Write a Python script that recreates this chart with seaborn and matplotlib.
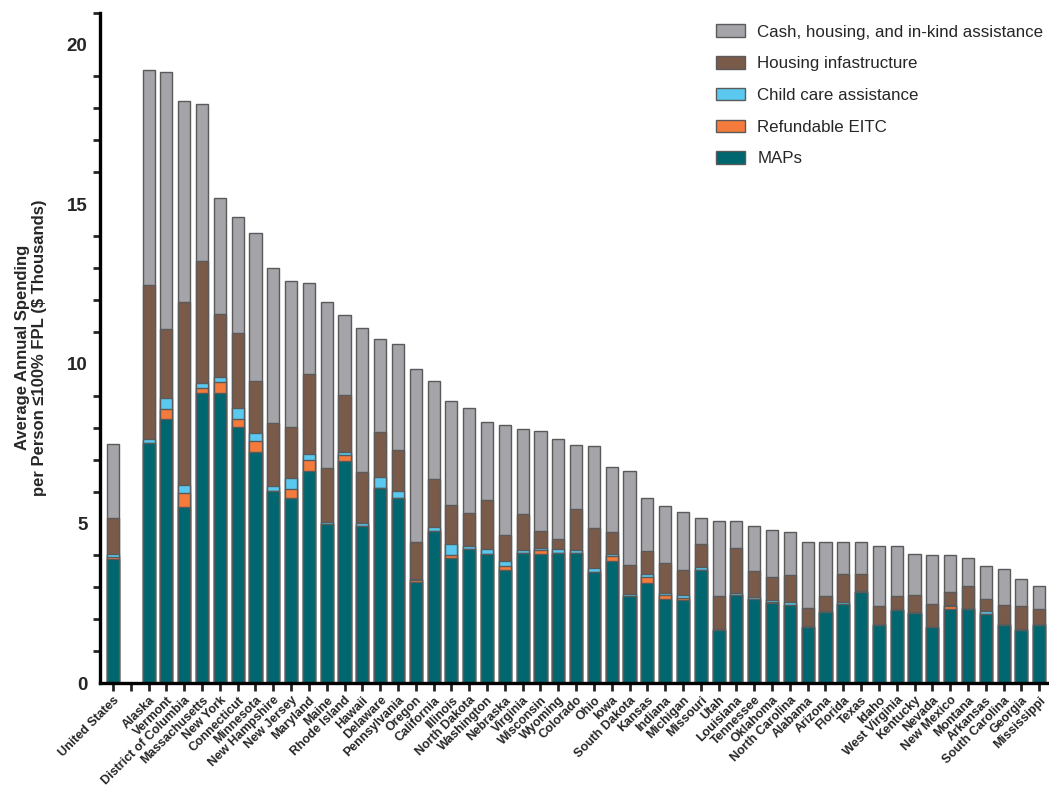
import matplotlib
matplotlib.use("Agg")
import matplotlib.pyplot as plt
import seaborn as sns
import numpy as np
import pandas as pd
from matplotlib.ticker import MultipleLocator
from matplotlib.patches import Patch

states = ["United States", "", "Alaska", "Vermont", "District of Columbia", "Massachusetts",
          "New York", "Connecticut", "Minnesota", "New Hampshire", "New Jersey", "Maryland",
          "Maine", "Rhode Island", "Hawaii", "Delaware", "Pennsylvania", "Oregon", "California",
          "Illinois", "North Dakota", "Washington", "Nebraska", "Virginia", "Wisconsin",
          "Wyoming", "Colorado", "Ohio", "Iowa", "South Dakota", "Kansas", "Indiana", "Michigan",
          "Missouri", "Utah", "Louisiana", "Tennessee", "Oklahoma", "North Carolina", "Alabama",
          "Arizona", "Florida", "Texas", "Idaho", "West Virginia", "Kentucky", "Nevada",
          "New Mexico", "Montana", "Arkansas", "South Carolina", "Georgia", "Mississippi"]

maps = [3.88, np.nan, 7.53, 8.27, 5.51, 9.10, 9.10, 8.03, 7.23, 6.03, 5.81, 6.65, 4.99, 6.97,
        4.91, 6.12, 5.81, 3.16, 4.75, 3.91, 4.21, 4.03, 3.54, 4.08, 4.03, 4.06, 4.06, 3.47,
        3.82, 2.72, 3.12, 2.65, 2.60, 3.55, 1.67, 2.77, 2.62, 2.52, 2.46, 1.75, 2.24, 2.49,
        2.84, 1.83, 2.29, 2.19, 1.75, 2.31, 2.32, 2.18, 1.82, 1.66, 1.82]
eitc = [0.07, np.nan, 0.00, 0.32, 0.43, 0.14, 0.34, 0.24, 0.36, 0.00, 0.28, 0.33, 0.00, 0.17,
        0.00, 0.00, 0.00, 0.06, 0.00, 0.09, 0.00, 0.00, 0.13, 0.00, 0.14, 0.00, 0.00, 0.00,
        0.15, 0.00, 0.21, 0.10, 0.07, 0.00, 0.00, 0.00, 0.00, 0.03, 0.00, 0.00, 0.00, 0.00,
        0.00, 0.00, 0.00, 0.00, 0.00, 0.10, 0.00, 0.00, 0.00, 0.00, 0.00]
childcare = [0.10, np.nan, 0.13, 0.34, 0.28, 0.17, 0.14, 0.34, 0.24, 0.15, 0.33, 0.19, 0.05, 0.09,
             0.12, 0.33, 0.22, 0.05, 0.13, 0.35, 0.07, 0.16, 0.14, 0.09, 0.07, 0.13, 0.11, 0.13,
             0.07, 0.07, 0.08, 0.06, 0.09, 0.08, 0.03, 0.04, 0.07, 0.05, 0.07, 0.03, 0.03, 0.06,
             0.04, 0.02, 0.03, 0.04, 0.02, 0.05, 0.02, 0.07, 0.02, 0.02, 0.02]
housing_infra = [1.13, np.nan, 4.80, 2.15, 5.71, 3.81, 1.98, 2.37, 1.64, 1.96, 1.60, 2.50, 1.70, 1.78,
                 1.57, 1.42, 1.26, 1.14, 1.52, 1.22, 1.04, 1.56, 0.84, 1.12, 0.51, 0.32, 1.29, 1.25,
                 0.70, 0.91, 0.73, 0.95, 0.78, 0.73, 1.04, 1.41, 0.83, 0.73, 0.86, 0.56, 0.47, 0.86,
                 0.53, 0.57, 0.42, 0.54, 0.70, 0.40, 0.70, 0.37, 0.62, 0.74, 0.47]
cash = [2.30, np.nan, 6.74, 8.06, 6.30, 4.91, 3.62, 3.63, 4.62, 4.86, 4.56, 2.86, 5.19, 2.53,
        4.52, 2.92, 3.33, 5.42, 3.06, 3.26, 3.30, 2.44, 3.42, 2.66, 3.14, 3.14, 2.00, 2.58,
        2.02, 2.95, 1.66, 1.80, 1.83, 0.80, 2.34, 0.85, 1.41, 1.45, 1.33, 2.09, 1.67, 1.00,
        1.00, 1.86, 1.54, 1.27, 1.55, 1.15, 0.88, 1.04, 1.11, 0.84, 0.72]

series_names = ["MAPs", "Refundable EITC", "Child care assistance",
                "Housing infastructure", "Cash, housing, and in-kind assistance"]
colors = ["#00666F", "#F47B3B", "#5BC8EF", "#7A5A49", "#A4A4A9"]

df = pd.DataFrame({"state": states, "MAPs": maps, "Refundable EITC": eitc,
                   "Child care assistance": childcare, "Housing infastructure": housing_infra,
                   "Cash, housing, and in-kind assistance": cash})
cum = df[series_names].cumsum(axis=1)

sns.set_style("white")
plt.rcParams['font.family'] = ['Liberation Sans', 'DejaVu Sans']

fig = plt.figure(figsize=(10.49, 7.87), dpi=100)
ax = fig.add_axes([0.0953, 0.132, 0.903, 0.852])

for name, col in reversed(list(zip(series_names, colors))):
    d = pd.DataFrame({"state": df["state"], "v": cum[name]})
    sns.barplot(data=d, x="state", y="v", order=states, color=col, saturation=1,
                width=0.68, errorbar=None, edgecolor="#5a5a5a", linewidth=1.0, ax=ax)

ax.set_ylim(0, 21)
ax.set_xlim(-0.73, 52.45)
ax.yaxis.set_major_locator(MultipleLocator(5))
ax.yaxis.set_minor_locator(MultipleLocator(1))
ax.set_yticks([0, 5, 10, 15, 20])
for s in ["top", "right"]:
    ax.spines[s].set_visible(False)
for s in ["left", "bottom"]:
    ax.spines[s].set_linewidth(2.4)
    ax.spines[s].set_color("black")
ax.tick_params(axis="y", which="major", length=8, width=2.2, labelsize=13.5, pad=1)
ax.tick_params(axis="y", which="minor", length=5, width=2.0, left=True)
ax.tick_params(axis="x", which="major", length=6, width=2.0, bottom=True, pad=2)
for lbl in ax.get_yticklabels():
    lbl.set_fontweight("bold")
ax.set_xticks(range(len(states)))
ax.set_xticklabels(states, rotation=45, ha="right", rotation_mode="anchor",
                   fontsize=9, fontweight="bold")
ax.set_xlabel("")
ax.set_ylabel("Average Annual Spending\nper Person \u2264100% FPL ($ Thousands)",
              fontsize=12, fontweight="bold", labelpad=14)

handles = [Patch(facecolor=c, edgecolor="#5a5a5a", linewidth=1.0, label=n)
           for n, c in zip(series_names, colors)]
handles = handles[::-1]
ax.legend(handles=handles, loc="upper right", bbox_to_anchor=(1.012, 1.005), frameon=False,
          fontsize=12.2, handlelength=1.7, handleheight=0.75, labelspacing=0.98,
          handletextpad=0.75)

fig.savefig("out.png", dpi=100)
